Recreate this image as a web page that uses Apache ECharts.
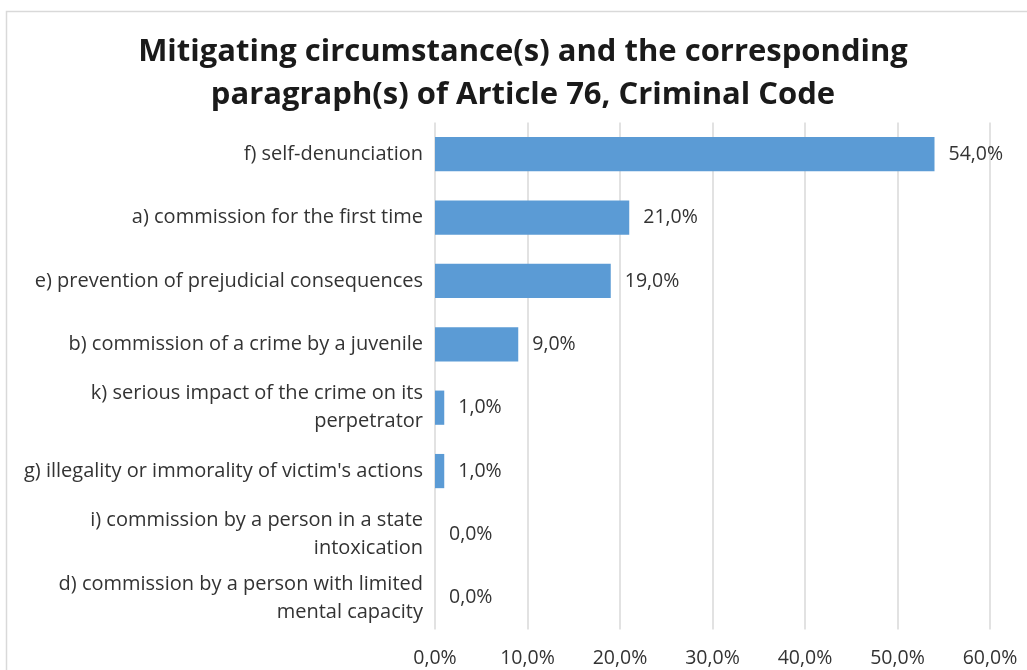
<!DOCTYPE html>
<html><head><meta charset="utf-8">
<script src="https://cdn.jsdelivr.net/npm/echarts@6/dist/echarts.min.js"></script>
<style>html,body{margin:0;padding:0;background:#fff}#c{width:1027px;height:670px}</style>
</head><body><div id="c"></div>
<script>
var categories = [
  "f) self-denunciation",
  "a) commission for the first time",
  "e) prevention of prejudicial consequences",
  "b) commission of a crime by a juvenile",
  "k) serious impact of the crime on its\nperpetrator",
  "g) illegality or immorality of victim's actions",
  "i) commission by a person in a state\nintoxication",
  "d) commission by a person with limited\nmental capacity"
];
var values = [54, 21, 19, 9, 1, 1, 0, 0];
var tickLabels = ["0,0%", "10,0%", "20,0%", "30,0%", "40,0%", "50,0%", "60,0%"];

var chart = echarts.init(document.getElementById('c'));
var FONT = '"Open Sans", sans-serif';
chart.setOption({
  animation: false,
  graphic: [{
    type: 'rect', left: 4, top: 9, shape: {width: 1040, height: 680},
    style: {fill: 'none', stroke: '#d9d9d9', lineWidth: 1.5}, silent: true
  }],
  title: {
    text: 'Mitigating circumstance(s) and the corresponding\nparagraph(s) of Article 76, Criminal Code',
    left: 518, top: 26, textAlign: 'center',
    textStyle: {fontFamily: FONT, fontWeight: 'bold', fontSize: 31, color: '#1a1a1a', lineHeight: 43}
  },
  grid: {left: 435, right: 37, top: 122.5, bottom: 40.5, containLabel: false},
  xAxis: {
    type: 'value', min: 0, max: 60, interval: 10,
    axisLine: {show: false}, axisTick: {show: false},
    splitLine: {lineStyle: {color: '#d9d9d9', width: 1.5}},
    axisLabel: {
      margin: 19, color: '#333333', fontFamily: FONT, fontSize: 19.5,
      formatter: function (v) { return tickLabels[Math.round(v / 10)]; }
    }
  },
  yAxis: {
    type: 'category', data: categories, inverse: true,
    axisLine: {show: false}, axisTick: {show: false},
    axisLabel: {margin: 12, color: '#333333', fontFamily: FONT, fontSize: 20, lineHeight: 28, align: 'right'}
  },
  series: [{
    type: 'bar', data: values, barCategoryGap: '46%',
    itemStyle: {color: '#5b9bd5'},
    label: {
      show: true, position: 'right', distance: 14, color: '#333333', fontFamily: FONT, fontSize: 19.5,
      formatter: function (p) { return p.value.toFixed(1).replace('.', ',') + '%'; }
    }
  }]
});
</script></body></html>
